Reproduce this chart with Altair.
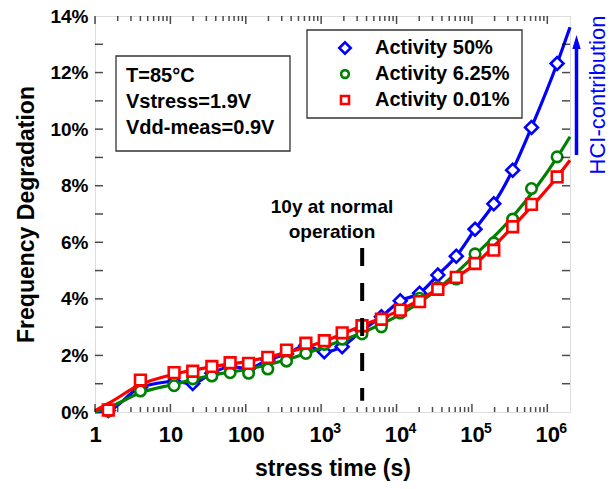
import altair as alt
import pandas as pd

FONT = "Liberation Sans"
BLUE, GREEN, RED = "#0000ff", "#008000", "#ff0000"

# ---------------- data ----------------
stress_time = [1.5, 4, 11.2, 19.8, 35.5, 62, 109, 196, 347, 627, 1100, 1900,
               3480, 6300, 11200, 20200, 35300, 62000, 110000, 195000, 347000,
               617000, 1350000]
act_50 = [0.05, 0.87, 1.07, 1.01, 1.37, 1.60, 1.54, 1.84, 2.05, 2.35, 2.13, 2.31,
          2.88, 3.37, 3.93, 4.20, 4.84, 5.51, 6.46, 7.36, 8.55, 10.06, 12.32]
act_625 = [0.03, 0.74, 0.93, 1.17, 1.27, 1.39, 1.37, 1.52, 1.80, 2.07, 2.39, 2.57,
           2.76, 3.01, 3.50, 4.02, 4.41, 4.70, 5.59, 5.98, 6.82, 7.90, 9.02]
act_001 = [0.07, 1.13, 1.39, 1.44, 1.61, 1.74, 1.72, 1.93, 2.19, 2.43, 2.52, 2.80,
           3.05, 3.28, 3.60, 3.90, 4.34, 4.76, 5.25, 5.72, 6.55, 7.34, 8.31]

# curves drawn through / fitted to the data
line50_t = [1] + stress_time + [2e6]
line50_v = [0.0] + act_50 + [13.6]
fit_t = [1, 1.5, 4, 11.2, 35.5, 109, 347, 1100, 3480, 11200, 35300, 110000,
         347000, 1350000, 2e6]
fit625_v = [0.0, 0.15, 0.68, 0.98, 1.30, 1.52, 1.85, 2.30, 2.80, 3.45, 4.35, 5.55,
            6.90, 9.00, 9.73]
fit001_v = [0.05, 0.30, 0.97, 1.34, 1.60, 1.80, 2.10, 2.50, 3.05, 3.60, 4.35, 5.23,
            6.55, 8.31, 8.90]

# 10-year marker
ten_year_t = [3500]
ten_year_top = [5.8]
ten_year_bottom = [0.4]

# axis ticks and labels
x_major = [1, 10, 100, 1000, 10000, 100000, 1000000]
x_exp_t = [1000, 10000, 100000, 1000000]
x_exp_txt = ["3", "4", "5", "6"]
x_minor = [m * 10 ** k for k in range(6) for m in range(2, 10)]
y_major = [0, 2, 4, 6, 8, 10, 12, 14]
y_minor = list(range(1, 14))

W, H = 475, 396

xs = alt.Scale(type="log", domain=[1, 2e6], nice=False)
ys = alt.Scale(domain=[0, 14], nice=False, zero=False)

xaxis = alt.Axis(values=x_major, ticks=False, tickSize=0, domain=False, grid=False,
                 labelExpr="datum.value < 1000 ? format(datum.value, 'd') : '10'",
                 labelFont=FONT, labelFontSize=22, labelFontWeight="bold", labelColor="black",
                 labelPadding=12, labelFlush=False, labelOverlap=False,
                 title="stress time (s)", titleFont=FONT, titleFontSize=23,
                 titleFontWeight="bold", titleColor="black", titleY=63,
                 titleBaseline="alphabetic")
yaxis = alt.Axis(values=y_major, ticks=False, tickSize=0, domain=False, grid=False,
                 labelExpr="datum.value + '%'",
                 labelFont=FONT, labelFontSize=19, labelFontWeight="bold", labelColor="black",
                 labelPadding=7, labelFlush=False, labelOverlap=False,
                 title="Frequency Degradation", titleFont=FONT, titleFontSize=23,
                 titleFontWeight="bold", titleColor="black", titleAngle=270,
                 titleX=-62, titleY=H / 2, titleAlign="center", titleBaseline="alphabetic")

X = alt.X("t:Q", scale=xs, axis=xaxis)
Y = alt.Y("v:Q", scale=ys, axis=yaxis)

def df(t, v):
    return pd.DataFrame({"t": t, "v": v})

dummy = alt.Data(values=[{}])

layers = []

# lines and markers
def series(line_t, line_v, interp, pts_v, color, shape, size):
    ln = alt.Chart(df(line_t, line_v)).mark_line(
        color=color, strokeWidth=3.2, interpolate=interp).encode(x=X, y=Y)
    pt = alt.Chart(df(stress_time, pts_v)).mark_point(
        shape=shape, size=size, filled=True, fill="white", stroke=color,
        strokeWidth=2.6, opacity=1).encode(x=X, y=Y)
    return [ln, pt]

layers += series(line50_t, line50_v, "monotone", act_50, BLUE, "diamond", 165)
layers += series(fit_t, fit625_v, "monotone", act_625, GREEN, "circle", 110)
layers += series(fit_t, fit001_v, "monotone", act_001, RED, "square", 115)

# dashed 10y line
layers.append(alt.Chart(pd.DataFrame({"t": ten_year_t, "v": ten_year_top, "v2": ten_year_bottom}))
              .mark_rule(color="black", strokeWidth=4, strokeDash=[18, 17])
              .encode(x=X, y=Y, y2="v2:Q"))

# inward ticks
def xticks(vals, length, top):
    ypos = length / 2 if top else H - length / 2
    return alt.Chart(pd.DataFrame({"t": vals})).mark_tick(
        orient="vertical", color="black", size=length, thickness=1.5).encode(
        x=X, y=alt.value(ypos))

def yticks(vals, length, right):
    xpos = W - length / 2 if right else length / 2
    return alt.Chart(pd.DataFrame({"v": vals})).mark_tick(
        orient="horizontal", color="black", size=length, thickness=1.5).encode(
        y=Y, x=alt.value(xpos))

layers += [xticks(x_major, 8, False), xticks(x_minor, 5, False),
           xticks(x_major, 8, True), xticks(x_minor, 5, True),
           yticks(y_minor, 8, False), yticks(y_minor, 8, True)]

# superscript exponents of the 10^n tick labels
layers.append(alt.Chart(pd.DataFrame({"t": x_exp_t, "e": x_exp_txt})).mark_text(
    font=FONT, fontSize=14, fontWeight="bold", color="black", align="left",
    baseline="top", dx=12).encode(x=X, y=alt.value(H + 10), text="e:N"))

# annotation text "10y at normal operation"
for txt, yy in [("10y at normal", 191), ("operation", 216)]:
    layers.append(alt.Chart(dummy).mark_text(
        text=txt, font=FONT, fontSize=19, fontWeight="bold", color="black",
        align="center", baseline="middle").encode(x=alt.value(237), y=alt.value(yy)))

# condition box
layers.append(alt.Chart(dummy).mark_rect(fill="white", stroke="#333333", strokeWidth=1.3)
              .encode(x=alt.value(21), x2=alt.value(195), y=alt.value(40), y2=alt.value(135)))
for txt, yy in [("T=85\u00b0C", 60), ("Vstress=1.9V", 86), ("Vdd-meas=0.9V", 112)]:
    layers.append(alt.Chart(dummy).mark_text(
        text=txt, font=FONT, fontSize=20, fontWeight="bold", color="black",
        align="left", baseline="middle").encode(x=alt.value(31), y=alt.value(yy)))

# legend
layers.append(alt.Chart(dummy).mark_rect(fill="white", stroke="#333333", strokeWidth=1.3)
              .encode(x=alt.value(212), x2=alt.value(427), y=alt.value(14), y2=alt.value(102)))
legend_rows = [("Activity 50%", BLUE, "diamond", 130, 32),
               ("Activity 6.25%", GREEN, "circle", 60, 58),
               ("Activity 0.01%", RED, "square", 64, 84)]
for label, color, shape, size, yy in legend_rows:
    layers.append(alt.Chart(dummy).mark_point(
        shape=shape, size=size, filled=True, fill="white", stroke=color,
        strokeWidth=2.6, opacity=1).encode(x=alt.value(250), y=alt.value(yy)))
    layers.append(alt.Chart(dummy).mark_text(
        text=label, font=FONT, fontSize=20, fontWeight="bold", color="black",
        align="left", baseline="middle").encode(x=alt.value(280), y=alt.value(yy)))

# HCI contribution arrow + label
layers.append(alt.Chart(dummy).mark_rule(color=BLUE, strokeWidth=3.5)
              .encode(x=alt.value(481.5), y=alt.value(139), y2=alt.value(30)))
layers.append(alt.Chart(dummy).mark_point(
    shape="M-0.6,1L0,-1L0.6,1Z", size=196, filled=True, color=BLUE, opacity=1)
    .encode(x=alt.value(481.5), y=alt.value(26)))
layers.append(alt.Chart(dummy).mark_text(
    text="HCI-contribution", font=FONT, fontSize=22, color=BLUE, angle=270,
    align="center", baseline="middle").encode(x=alt.value(503), y=alt.value(79)))

chart = alt.layer(*layers).properties(
    width=W, height=H,
    autosize=alt.AutoSizeParams(type="none"),
    padding={"left": 95, "top": 16, "right": 43, "bottom": 77},
    background="white",
).configure_view(stroke="black", strokeWidth=2).configure(font=FONT)

chart.save("out.html", embed_options={"renderer": "svg", "actions": False})
